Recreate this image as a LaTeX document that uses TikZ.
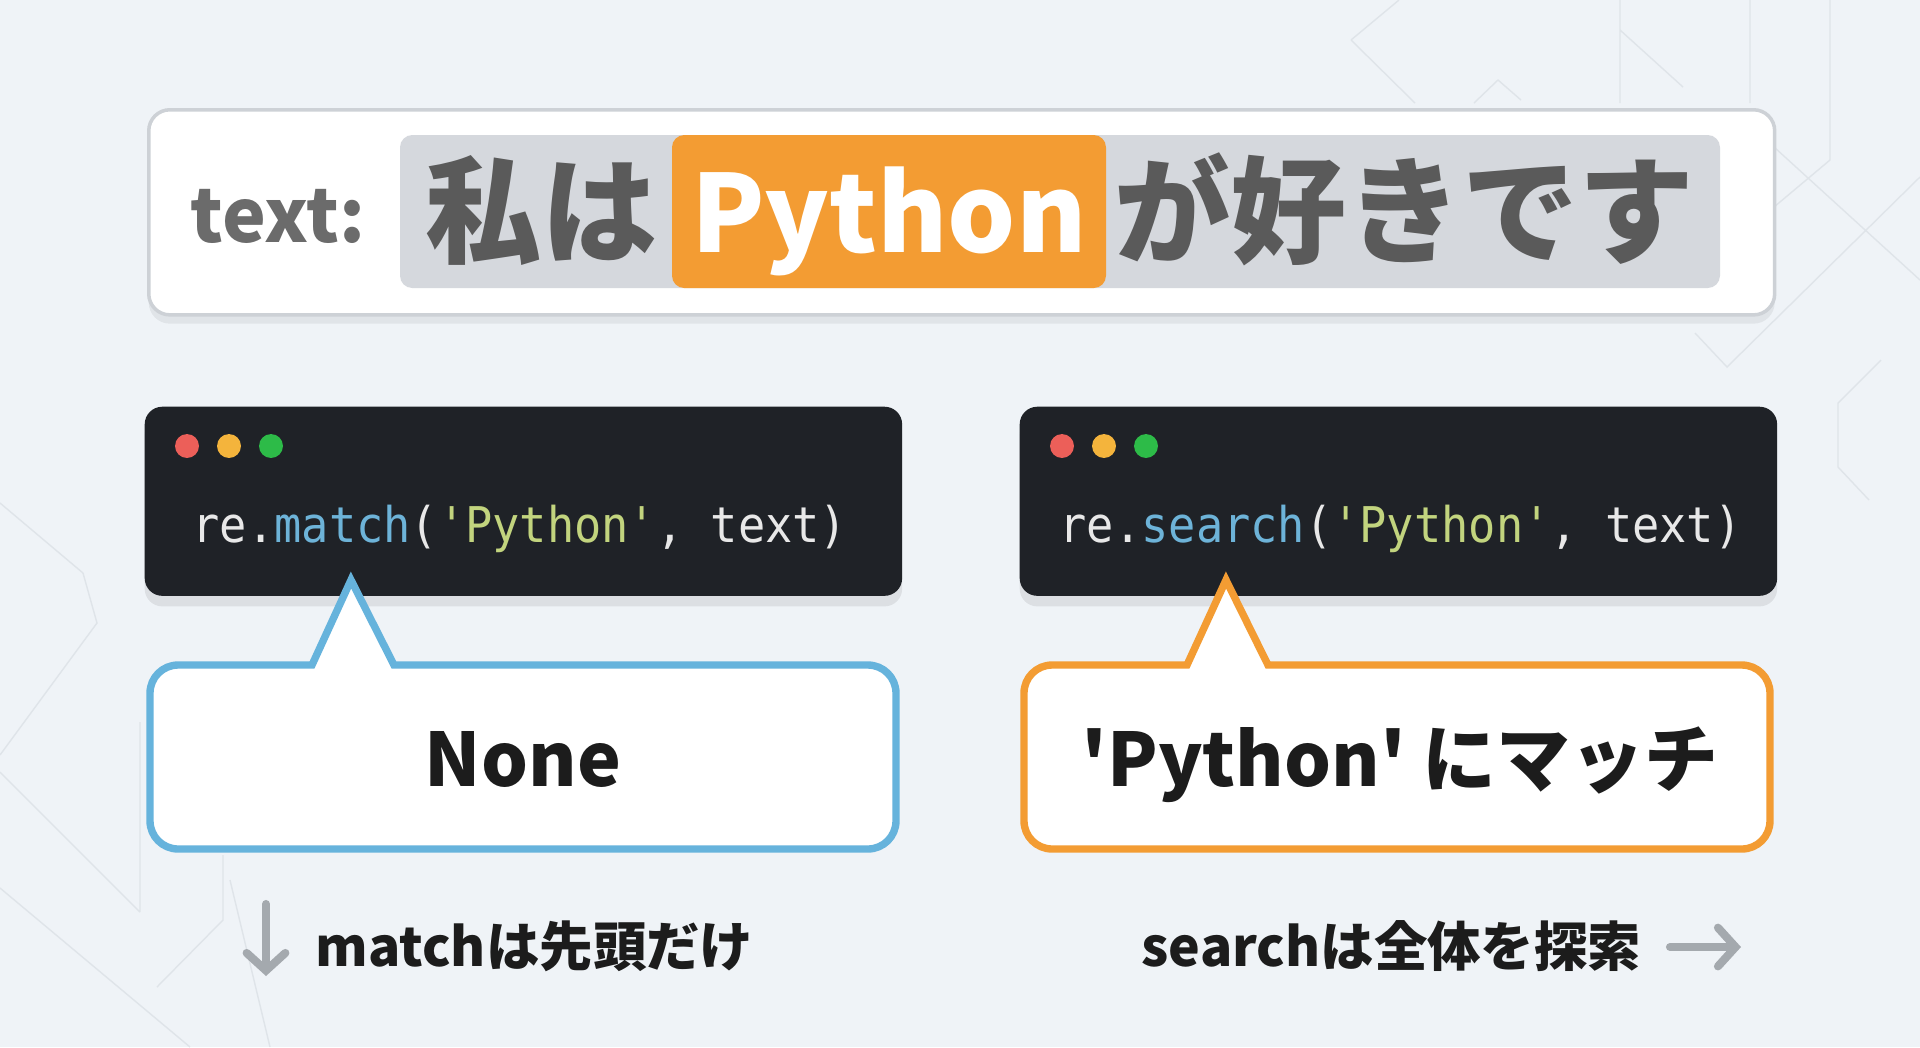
\documentclass[tikz,border=0pt]{standalone}
\usepackage{fontspec}
\setmainfont{Noto Sans CJK JP}[Ligatures=TeXOff]
\newfontfamily\codefont{DejaVu Sans Mono}[FakeStretch=0.92, Ligatures=TeXOff]
\usetikzlibrary{shadows,arrows.meta}

\definecolor{bgcol}{HTML}{EFF3F7}
\definecolor{bgline}{HTML}{DFE4E9}
\definecolor{boxline}{HTML}{CDD1D6}
\definecolor{stripgray}{HTML}{D5D8DD}
\definecolor{pyorange}{HTML}{F39C33}
\definecolor{jpgray}{HTML}{5A5A5A}
\definecolor{termbg}{HTML}{1F2227}
\definecolor{codewhite}{HTML}{E8E8E8}
\definecolor{codeblue}{HTML}{6DB3D8}
\definecolor{codegreen}{HTML}{C2D47E}
\definecolor{dotred}{HTML}{EC5F59}
\definecolor{dotyellow}{HTML}{F4B43C}
\definecolor{dotgreen}{HTML}{2DBB48}
\definecolor{noneblue}{HTML}{66B3DC}
\definecolor{inkblack}{HTML}{1C1C1C}
\definecolor{arrowgray}{HTML}{A4A9AE}

\tikzset{
  panel/.style={draw=boxline, line width=1pt, fill=white, rounded corners=6pt,
    drop shadow={shadow xshift=0pt, shadow yshift=-2.5pt, opacity=0.06, fill=black}},
  termbox/.style={fill=termbg, rounded corners=5pt,
    drop shadow={shadow xshift=0pt, shadow yshift=-3pt, opacity=0.08, fill=black}},
  callout/.style={line width=2.1pt, fill=white, line join=miter},
  jptext/.style={inner sep=0pt, text=jpgray, font=\fontsize{33pt}{33pt}\selectfont\bfseries},
  pytext/.style={inner sep=0pt, text=white, font=\fontsize{30.5pt}{30.5pt}\selectfont\bfseries},
  tag/.style={inner sep=0pt, text=jpgray!90, font=\fontsize{21pt}{21pt}\selectfont\bfseries},
  code/.style={inner sep=0pt, text=codewhite, font=\fontsize{14pt}{14pt}\codefont},
  result/.style={inner sep=0pt, text=inkblack, font=\fontsize{21pt}{21pt}\selectfont\bfseries},
  note/.style={inner sep=0pt, text=inkblack, font=\fontsize{15.2pt}{15.2pt}\selectfont\bfseries},
  hint/.style={arrowgray, line width=2.3pt, line cap=round,
    -{Straight Barb[length=5pt, width=11pt, line cap=round]}}
}

\begin{document}
\begin{tikzpicture}[x=0.01cm, y=-0.01cm]
% background
\fill[bgcol] (0,0) rectangle (1920,1047);
\useasboundingbox (0,0) rectangle (1920,1047);
\draw[bgline, line width=0.4pt] (1351,40) -- (1399,0) (1351,40) -- (1415,103)
  (1474,103) -- (1498,80) -- (1521,100) (1620,0) -- (1620,103) (1620,30) -- (1683,87)
  (1750,0) -- (1750,103) (1830,0) -- (1830,160) -- (1774,207) (1774,147) -- (1920,280)
  (1920,177) -- (1727,367) -- (1695,333) (1881,360) -- (1838,403) -- (1838,467) -- (1869,500)
  (0,503) -- (83,573) -- (97,623) -- (0,755) (0,772) -- (140,912) (140,722) -- (140,912)
  (0,888) -- (190,1047) (157,987) -- (223,920) -- (223,855) (230,880) -- (270,1047);

% the string
\node[panel, anchor=north west, minimum width=16.25cm, minimum height=2.05cm] (textbox) at (147,108) {};
\fill[stripgray, rounded corners=3.5pt] (400,135) rectangle (1720,288);
\fill[pyorange, rounded corners=3.5pt] (672,135) rectangle (1106,288);
\node[tag, anchor=base west] (tag) at (190,242) {text:};
\node[jptext, anchor=base west] (head) at (425,254) {私は};
\node[pytext, anchor=base] (word) at (889,252) {Python};
\node[jptext, anchor=base west] (tail) at (1114,254) {が好きです};

% two calls
\node[termbox, anchor=north west, minimum width=7.57cm, minimum height=1.89cm] (termL) at (144,406) {};
\node[termbox, anchor=north west, minimum width=7.57cm, minimum height=1.89cm] (termR) at (1019,406) {};
\foreach \c/\dx in {dotred/0, dotyellow/42, dotgreen/84} {
  \fill[\c] (187+\dx,446) circle[radius=3.4pt];
  \fill[\c] (1062+\dx,446) circle[radius=3.4pt];
}
\node[code, anchor=base west] (callL) at (192,542)
  {re.\textcolor{codeblue}{match}(\textcolor{codegreen}{'Python'}, text)};
\node[code, anchor=base west] (callR) at (1059,542)
  {re.\textcolor{codeblue}{search}(\textcolor{codegreen}{'Python'}, text)};

% results
\draw[callout, draw=noneblue] (351,580) -- (394,665) [rounded corners=8pt] -- (896,665)
  -- (896,849) -- (150,849) -- (150,665) [sharp corners] -- (312,665) -- cycle;
\draw[callout, draw=pyorange] (1226,580) -- (1268,665) [rounded corners=8pt] -- (1770,665)
  -- (1770,849) -- (1024,849) -- (1024,665) [sharp corners] -- (1187,665) -- cycle;
\node[result, anchor=base] (resL) at (523,786) {None};
\node[result, anchor=base] (resR) at (1400,786) {'Python' にマッチ};

% notes
\coordinate (dnA) at (266,904);
\coordinate (dnB) at (266,976);
\draw[hint] (dnA) -- (dnB);
\node[note, anchor=base west] (noteL) at (315,966) {matchは先頭だけ};
\node[note, anchor=base west] (noteR) at (1141,966) {searchは全体を探索};
\coordinate (rtA) at (1670,947);
\coordinate (rtB) at (1741,947);
\draw[hint] (rtA) -- (rtB);
\end{tikzpicture}
\end{document}
